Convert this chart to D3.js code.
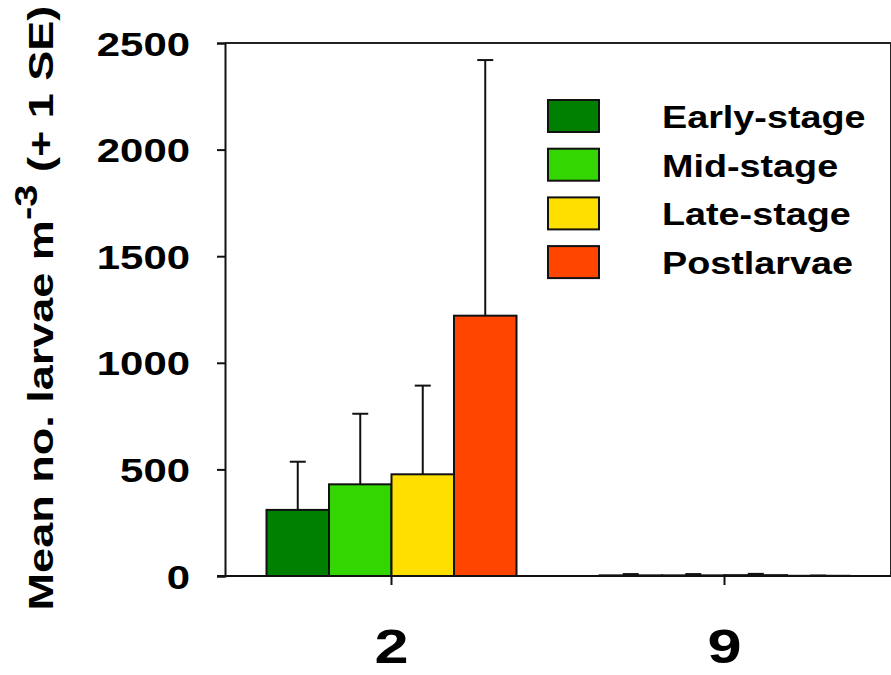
<!DOCTYPE html>
<html>
<head>
<meta charset="utf-8">
<script src="https://cdn.jsdelivr.net/npm/d3@7"></script>
<style>
  body { margin: 0; background: #fff; }
  svg { display: block; font-family: "Liberation Sans", Arial, sans-serif; font-weight: bold; }
</style>
</head>
<body>
<svg id="chart" width="891" height="675"></svg>
<script>
// Data
const stations = ['2', '9'];
const stages = ['Early-stage', 'Mid-stage', 'Late-stage', 'Postlarvae'];
const stageColors = ['#008000', '#33d600', '#ffdf00', '#ff4500'];
const meanStation2 = [310, 430, 477, 1221];
const seStation2 = [226, 331, 416, 1199];
const meanStation9 = [3, 3, 4, 1];
const seStation9 = [6, 6, 6, 1];
const yTicks = [0, 500, 1000, 1500, 2000, 2500];

const rows = [];
stations.forEach((s, si) => {
  const means = si === 0 ? meanStation2 : meanStation9;
  const ses = si === 0 ? seStation2 : seStation9;
  stages.forEach((st, i) => rows.push({ station: s, stage: st, mean: means[i], se: ses[i], color: stageColors[i] }));
});

const width = 891, height = 675;
const margin = { top: 43, right: 0, bottom: 99, left: 225 };

const svg = d3.select('#chart');

const x0 = d3.scaleBand().domain(stations).range([margin.left, width - margin.right]).padding(0);
const x1 = d3.scaleBand().domain(stages).range([0, x0.bandwidth()]).paddingInner(0).paddingOuter(0.664);
const y = d3.scaleLinear().domain([0, 2500]).range([height - margin.bottom, margin.top]);

// frame (top / right)
svg.append('path')
  .attr('d', `M${margin.left},${margin.top}H${width - margin.right}V${height - margin.bottom}`)
  .attr('fill', 'none')
  .attr('stroke', '#222')
  .attr('stroke-width', 2);

// bars
const bars = svg.append('g').attr('class', 'bars');
bars.selectAll('rect')
  .data(rows)
  .join('rect')
  .attr('x', d => x0(d.station) + x1(d.stage))
  .attr('y', d => y(d.mean))
  .attr('width', x1.bandwidth())
  .attr('height', d => y(0) - y(d.mean))
  .attr('fill', d => d.color)
  .attr('stroke', '#111')
  .attr('stroke-width', 2);

// error bars (+1 SE)
const capW = 16;
const err = svg.append('g').attr('class', 'errors').attr('stroke', '#111').attr('stroke-width', 2);
rows.forEach(d => {
  const cx = x0(d.station) + x1(d.stage) + x1.bandwidth() / 2;
  err.append('line').attr('x1', cx).attr('x2', cx).attr('y1', y(d.mean)).attr('y2', y(d.mean + d.se));
  err.append('line').attr('x1', cx - capW / 2).attr('x2', cx + capW / 2).attr('y1', y(d.mean + d.se)).attr('y2', y(d.mean + d.se));
});

// y axis
const yAxis = svg.append('g')
  .attr('transform', `translate(${margin.left},0)`)
  .call(d3.axisLeft(y).tickValues(yTicks).tickSize(8).tickFormat(d3.format('d')));
yAxis.select('.domain').attr('stroke', '#111').attr('stroke-width', 2);
yAxis.selectAll('.tick line').attr('stroke', '#111').attr('stroke-width', 2);
yAxis.selectAll('.tick text')
  .attr('x', null)
  .attr('dy', null)
  .attr('transform', 'translate(-35,12) scale(1.27,1)')
  .attr('fill', '#000')
  .style('font-size', '33px')
  .style('font-weight', 'bold')
  .style('font-family', '"Liberation Sans", Arial, sans-serif');

// x axis
const xAxis = svg.append('g')
  .attr('transform', `translate(0,${y(0)})`)
  .call(d3.axisBottom(x0).tickSize(9).tickSizeOuter(0));
xAxis.select('.domain').attr('stroke', '#111').attr('stroke-width', 2)
  .attr('d', `M${margin.left - 8},0H${width}`);
xAxis.selectAll('.tick line').attr('stroke', '#111').attr('stroke-width', 2);
xAxis.selectAll('.tick text')
  .attr('y', null)
  .attr('dy', null)
  .attr('transform', 'translate(0,87) scale(1.25,1)')
  .attr('fill', '#000')
  .style('font-size', '49px')
  .style('font-weight', 'bold')
  .style('font-family', '"Liberation Sans", Arial, sans-serif');

// y axis title
const yTitle = svg.append('text')
  .attr('text-anchor', 'middle')
  .attr('fill', '#000')
  .style('font-size', '36px');
yTitle.append('tspan').text('Mean no. larvae m');
yTitle.append('tspan').attr('dy', -16).style('font-size', '32px').text('-3');
yTitle.append('tspan').attr('dy', 16).text(' (+ 1 SE)');
const titleLen = yTitle.node().getComputedTextLength();
const titleScale = 605 / titleLen;
yTitle.attr('transform', `translate(53,308) rotate(-90) scale(${titleScale},1)`);

// legend
const legend = svg.append('g').attr('class', 'legend');
const legRow = legend.selectAll('g')
  .data(stages)
  .join('g')
  .attr('transform', (d, i) => `translate(548,${100 + i * 48.7})`);
legRow.append('rect')
  .attr('width', 51)
  .attr('height', 32)
  .attr('fill', (d, i) => stageColors[i])
  .attr('stroke', '#111')
  .attr('stroke-width', 2);
legRow.append('text')
  .attr('transform', 'translate(114,28) scale(1.18,1)')
  .attr('fill', '#000')
  .style('font-size', '32px')
  .text(d => d);
</script>
</body>
</html>
